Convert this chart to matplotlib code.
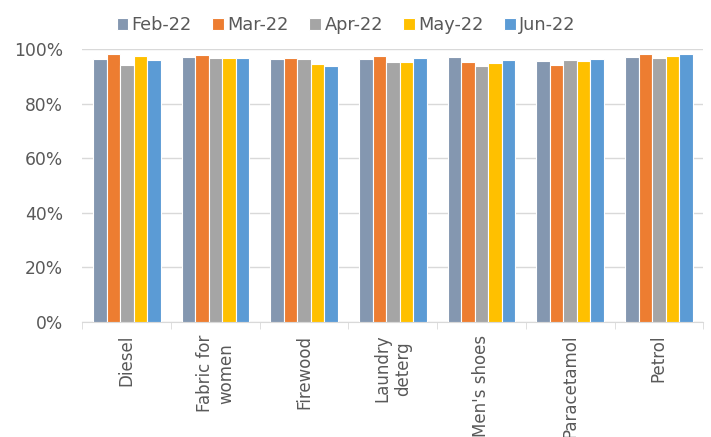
import matplotlib.pyplot as plt
import numpy as np

plt.rcParams['font.family'] = ['DejaVu Sans']

categories = ["Diesel", "Fabric for\nwomen", "Firewood", "Laundry\ndeterg",
              "Men's shoes", "Paracetamol", "Petrol"]
months = ["Feb-22", "Mar-22", "Apr-22", "May-22", "Jun-22"]
feb = [96.2, 97.2, 96.3, 96.4, 96.9, 95.7, 97.2]
mar = [98.3, 97.8, 96.7, 97.4, 95.3, 94.0, 98.0]
apr = [94.2, 96.6, 96.2, 95.2, 93.7, 95.8, 96.6]
may = [97.4, 96.6, 94.5, 95.3, 94.7, 95.7, 97.3]
jun = [95.8, 96.7, 93.7, 96.6, 96.1, 96.4, 98.0]
series = [feb, mar, apr, may, jun]
colors = ["#8497B0", "#ED7D31", "#A5A5A5", "#FFC000", "#5B9BD5"]

txt = "#595959"
fig = plt.figure(figsize=(7.11, 4.37), dpi=100)
ax = fig.add_axes([0.116, 0.263, 0.873, 0.625])

x = np.arange(len(categories))
w = 0.152
for i, (vals, m) in enumerate(zip(series, months)):
    ax.bar(x + (i - 2) * w, np.array(vals) / 100, w, color=colors[i],
           edgecolor="white", linewidth=0.8, label=m, zorder=3)

ax.set_xlim(-0.5, len(categories) - 0.5)
ax.set_ylim(0, 1)
ax.set_yticks(np.arange(0, 1.01, 0.2))
ax.set_yticklabels([f"{int(round(v * 100))}%" for v in np.arange(0, 1.01, 0.2)],
                   fontsize=12.3, color=txt)
ax.yaxis.grid(True, color="#D9D9D9", linewidth=1, zorder=0)
ax.tick_params(axis="y", length=0, pad=14)

ax.set_xticks(x)
ax.set_xticklabels(categories, rotation=90, fontsize=12, color=txt,
                   va="top", ha="center", multialignment="center")
ax.set_xticks(np.arange(-0.5, len(categories)), minor=True)
ax.tick_params(axis="x", which="major", length=0, pad=9)
ax.tick_params(axis="x", which="minor", length=5, color="#D9D9D9")

for s in ["top", "right", "left"]:
    ax.spines[s].set_visible(False)
ax.spines["bottom"].set_color("#D9D9D9")

fig.legend(loc="upper center", bbox_to_anchor=(0.487, 1.0), ncol=5, frameon=False,
           fontsize=12.8, handlelength=0.65, handleheight=0.65, handletextpad=0.2,
           columnspacing=1.15, labelcolor=txt)

fig.savefig("out.png", dpi=100)
